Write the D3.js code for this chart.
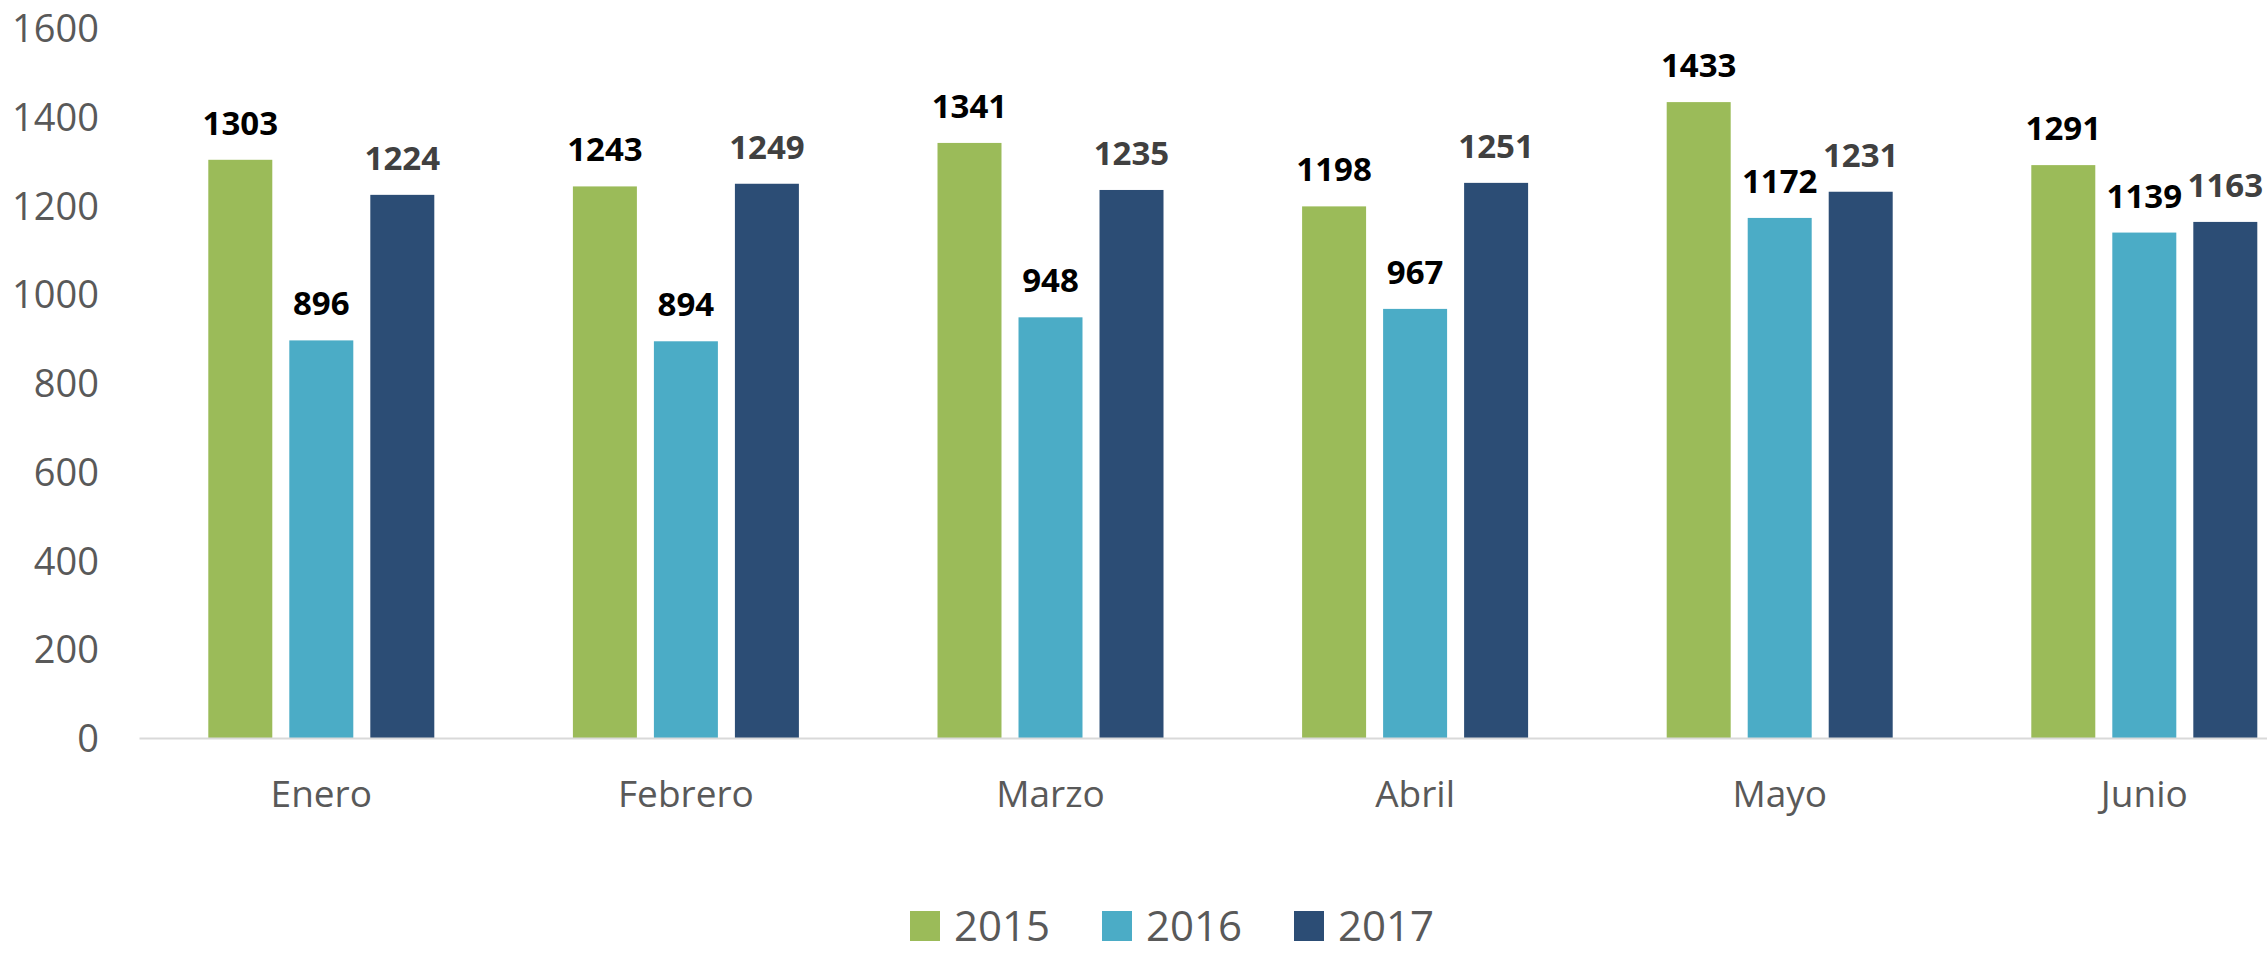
<!DOCTYPE html>
<html>
<head>
<meta charset="utf-8">
<script src="https://cdn.jsdelivr.net/npm/d3@7"></script>
<style>
  html, body { margin: 0; padding: 0; background: #fff; overflow: hidden; }
  text { font-family: "Open Sans", sans-serif; }
</style>
</head>
<body>
<div id="chart-holder"></div>
<script>
// data
var months = ["Enero", "Febrero", "Marzo", "Abril", "Mayo", "Junio"];
var years = ["2015", "2016", "2017"];
var values2015 = [1303, 1243, 1341, 1198, 1433, 1291];
var values2016 = [896, 894, 948, 967, 1172, 1139];
var values2017 = [1224, 1249, 1235, 1251, 1231, 1163];
var yTicks = [0, 200, 400, 600, 800, 1000, 1200, 1400, 1600];

var colors = ["#9BBB59", "#4BACC6", "#2C4D75"];
var labelColors = ["#000000", "#000000", "#404040"];

// set the dimensions of the graph
var width = 2267, height = 956;
var plotLeft = 139, step = 364.6, baseY = 738, topY = 28;

var svg = d3.select("#chart-holder")
  .append("svg")
  .attr("width", width)
  .attr("height", height);

var series = [values2015, values2016, values2017];
var rows = [];
months.forEach(function (m, i) {
  years.forEach(function (yr, j) {
    rows.push({ month: m, year: yr, idx: j, value: series[j][i] });
  });
});

///////////////////////////////////////////////////////////////////////////////////////////
// scales
var x0 = d3.scaleBand()
  .domain(months)
  .range([plotLeft, plotLeft + step * months.length])
  .padding(0);

var x1 = d3.scaleBand()
  .domain(years)
  .range([-113, 113])
  .paddingInner(0.21)
  .paddingOuter(0);

var y = d3.scaleLinear()
  .domain([0, 1600])
  .range([baseY, topY]);

///////////////////////////////////////////////////////////////////////////////////////////
// Y axis labels (no line, no ticks)
var yAxis = svg.append("g")
  .attr("transform", "translate(99,0)")
  .call(d3.axisLeft(y).tickValues(yTicks).tickFormat(d3.format("d")).tickSize(0).tickPadding(0));
yAxis.select(".domain").remove();
yAxis.selectAll("text")
  .attr("x", 0)
  .attr("dy", "13.5px")
  .style("font-family", "'Open Sans', sans-serif")
  .style("font-size", "38px")
  .style("fill", "#595959");

///////////////////////////////////////////////////////////////////////////////////////////
// bars
svg.selectAll("rect.bar")
  .data(rows)
  .enter()
  .append("rect")
  .attr("class", "bar")
  .attr("x", function (d) { return x0(d.month) + x0.bandwidth() / 2 + x1(d.year); })
  .attr("y", function (d) { return y(d.value); })
  .attr("width", x1.bandwidth())
  .attr("height", function (d) { return y(0) - y(d.value); })
  .style("fill", function (d) { return colors[d.idx]; });

// value labels
svg.selectAll("text.val")
  .data(rows)
  .enter()
  .append("text")
  .attr("class", "val")
  .attr("x", function (d) { return x0(d.month) + x0.bandwidth() / 2 + x1(d.year) + x1.bandwidth() / 2; })
  .attr("y", function (d) { return y(d.value) - 25; })
  .attr("text-anchor", "middle")
  .style("font-size", "33px")
  .style("font-weight", "bold")
  .style("fill", function (d) { return labelColors[d.idx]; })
  .text(function (d) { return d.value; });

///////////////////////////////////////////////////////////////////////////////////////////
// X axis
var xAxis = svg.append("g")
  .attr("transform", "translate(0," + baseY + ")")
  .call(d3.axisBottom(x0).tickSize(0).tickPadding(0));
xAxis.select(".domain")
  .attr("stroke", "#d9d9d9")
  .attr("stroke-width", 2);
xAxis.selectAll("text")
  .attr("y", 69)
  .attr("dy", 0)
  .style("font-family", "'Open Sans', sans-serif")
  .style("font-size", "37px")
  .style("fill", "#595959");

///////////////////////////////////////////////////////////////////////////////////////////
// legend
var legend = svg.selectAll("g.legend")
  .data(years)
  .enter()
  .append("g")
  .attr("class", "legend")
  .attr("transform", function (d, i) { return "translate(" + (910 + i * 192) + ",911)"; });

legend.append("rect")
  .attr("width", 30)
  .attr("height", 30)
  .style("fill", function (d, i) { return colors[i]; });

legend.append("text")
  .attr("x", 44)
  .attr("y", 30)
  .style("font-size", "42px")
  .style("fill", "#595959")
  .text(function (d) { return d; });
</script>
</body>
</html>
